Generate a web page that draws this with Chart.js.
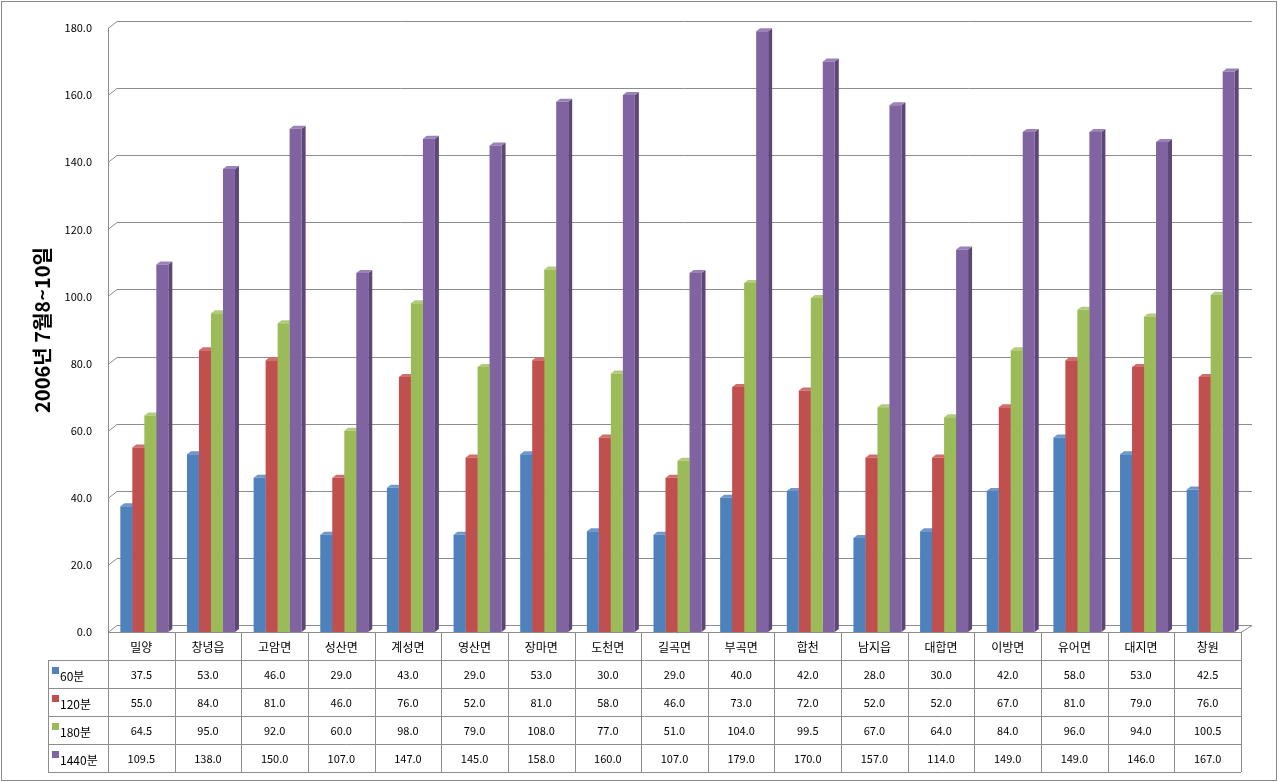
<!DOCTYPE html>
<html><head><meta charset="utf-8">
<script src="https://cdn.jsdelivr.net/npm/chart.js@4/dist/chart.umd.min.js"></script>
<style>html,body{margin:0;padding:0;background:#fff}#wrap{position:absolute;left:0;top:0;width:1279px;height:782px}</style>
</head><body><div id="wrap"><canvas id="c" width="1279" height="782"></canvas></div>
<script>
const categories = ['밀양','창녕읍','고암면','성산면','계성면','영산면','장마면','도천면','길곡면','부곡면','합천','남지읍','대합면','이방면','유어면','대지면','창원'];
const seriesNames = ['60분','120분','180분','1440분'];
const s60 = [37.5,53.0,46.0,29.0,43.0,29.0,53.0,30.0,29.0,40.0,42.0,28.0,30.0,42.0,58.0,53.0,42.5];
const s120 = [55.0,84.0,81.0,46.0,76.0,52.0,81.0,58.0,46.0,73.0,72.0,52.0,52.0,67.0,81.0,79.0,76.0];
const s180 = [64.5,95.0,92.0,60.0,98.0,79.0,108.0,77.0,51.0,104.0,99.5,67.0,64.0,84.0,96.0,94.0,100.5];
const s1440 = [109.5,138.0,150.0,107.0,147.0,145.0,158.0,160.0,107.0,179.0,170.0,157.0,114.0,149.0,149.0,146.0,167.0];
const yTitle = '2006년 7월8~10일';
const yMin = 0, yMax = 180, yStep = 20;

const colors = ['#4F81BD','#C0504D','#9BBB59','#8064A2'];
const sideColors = ['#385d8a','#8c3836','#71893f','#5c4776'];
const topColors = ['#6f97c9','#d06e6b','#b0cb79','#9a82b9'];
const seriesData = [s60, s120, s180, s1440];
const FONT = '"Noto Sans CJK KR", "Noto Sans", sans-serif';
const DX = 9, DY = 7;
const SHIFT = 3;

const wallPlugin = {
  id: 'wall',
  beforeDatasetsDraw(chart) {
    const ctx = chart.ctx, y = chart.scales.y, a = chart.chartArea;
    ctx.save();
    ctx.strokeStyle = '#8c8c8c';
    ctx.lineWidth = 1;
    y.ticks.forEach(t => {
      const py = Math.round(y.getPixelForValue(t.value)) + 0.5;
      ctx.beginPath();
      ctx.moveTo(a.left, py);
      ctx.lineTo(a.left + DX, py - DY);
      ctx.lineTo(a.right + DX + 2, py - DY);
      ctx.stroke();
    });
    ctx.beginPath();
    ctx.moveTo(Math.round(a.left) + 0.5, Math.round(y.getPixelForValue(yMax)));
    ctx.lineTo(Math.round(a.left) + 0.5, a.bottom);
    ctx.stroke();
    const fy = Math.round(a.bottom) + 0.5;
    ctx.beginPath();
    ctx.moveTo(a.left, fy);
    ctx.lineTo(a.right, fy);
    ctx.lineTo(a.right + DX + 2, fy - DY);
    ctx.stroke();
    ctx.restore();
    ctx.save();
    ctx.translate(SHIFT, 0);
    chart.data.datasets.forEach((ds, di) => {
      const meta = chart.getDatasetMeta(di);
      meta.data.forEach(el => {
        const p = el.getProps(['x','y','base','width'], true);
        const l = p.x - p.width / 2, r = p.x + p.width / 2;
        const d = 4, dv = 3;
        ctx.fillStyle = sideColors[di];
        ctx.beginPath();
        ctx.moveTo(r, p.y); ctx.lineTo(r + d, p.y - dv); ctx.lineTo(r + d, p.base - dv); ctx.lineTo(r, p.base);
        ctx.closePath(); ctx.fill();
        ctx.fillStyle = topColors[di];
        ctx.beginPath();
        ctx.moveTo(l, p.y); ctx.lineTo(l + d, p.y - dv); ctx.lineTo(r + d, p.y - dv); ctx.lineTo(r, p.y);
        ctx.closePath(); ctx.fill();
      });
    });
  },
  afterDatasetsDraw(chart) {
    chart.ctx.restore();
  },
  afterDraw(chart) {
    const ctx = chart.ctx, x = chart.scales.x, a = chart.chartArea;
    ctx.save();
    ctx.strokeStyle = '#8a8a8a';
    ctx.lineWidth = 1;
    ctx.strokeRect(1.5, 1.5, chart.width - 4, chart.height - 3);
    const n = categories.length;
    const rowH = 28;
    const top = Math.round(a.bottom);
    const labelLeft = 48;
    const half = (x.getPixelForValue(1) - x.getPixelForValue(0)) / 2;
    const edges = [x.getPixelForValue(0) - half];
    for (let i = 0; i < n; i++) edges.push(x.getPixelForValue(i) + half);
    ctx.strokeStyle = '#8c8c8c';
    ctx.beginPath();
    edges.forEach(e => {
      const ex = Math.round(e) + 0.5;
      ctx.moveTo(ex, top); ctx.lineTo(ex, top + rowH * 5);
    });
    ctx.moveTo(labelLeft + 0.5, top + rowH); ctx.lineTo(labelLeft + 0.5, top + rowH * 5);
    for (let r = 1; r <= 5; r++) {
      const yy = top + rowH * r + 0.5;
      ctx.moveTo(labelLeft, yy); ctx.lineTo(edges[n], yy);
    }
    ctx.stroke();
    ctx.fillStyle = '#000';
    ctx.textBaseline = 'middle';
    ctx.textAlign = 'center';
    ctx.font = '12px ' + FONT;
    categories.forEach((c, i) => ctx.fillText(c, x.getPixelForValue(i), top + rowH / 2 + 1));
    ctx.font = '11px ' + FONT;
    seriesData.forEach((arr, si) => {
      const cy = top + rowH * (si + 1) + rowH / 2 + 1;
      arr.forEach((v, i) => ctx.fillText(v.toFixed(1), x.getPixelForValue(i), cy));
    });
    ctx.textAlign = 'left';
    ctx.font = '12px ' + FONT;
    seriesNames.forEach((s, si) => {
      const cy = top + rowH * (si + 1) + rowH / 2;
      ctx.fillStyle = colors[si];
      ctx.fillRect(52, cy - 7, 7, 7);
      ctx.fillStyle = '#000';
      ctx.fillText(s, 60, cy + 2);
    });
    ctx.restore();
  }
};

new Chart(document.getElementById('c'), {
  type: 'bar',
  data: {
    labels: categories,
    datasets: seriesData.map((d, i) => ({
      label: seriesNames[i], data: d, backgroundColor: colors[i], borderWidth: 0,
      categoryPercentage: 0.72, barPercentage: 1.0
    }))
  },
  options: {
    responsive: false,
    animation: false,
    devicePixelRatio: 1,
    layout: { padding: { left: 26, right: 38, top: 28, bottom: 150 } },
    plugins: { legend: { display: false }, tooltip: { enabled: false } },
    scales: {
      x: { display: false, grid: { display: false } },
      y: {
        min: yMin, max: yMax,
        grid: { display: false, drawTicks: false },
        border: { display: false },
        ticks: { stepSize: yStep, padding: 16, color: '#000', font: { size: 11, family: FONT }, callback: v => Number(v).toFixed(1) },
        title: { display: true, text: yTitle, color: '#000', font: { size: 20, weight: 'bold', family: FONT }, padding: { top: 4, bottom: 0 } },
        afterFit(s) { s.width = 82; }
      }
    }
  },
  plugins: [wallPlugin]
});
</script></body></html>
